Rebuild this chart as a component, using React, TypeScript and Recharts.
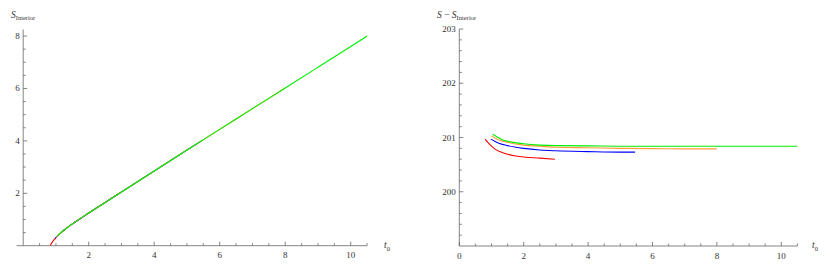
import React from "react";
import { LineChart, Line, XAxis, YAxis, ReferenceLine } from "recharts";

// left panel: S_Interior vs t0 (all four runs lie on the same curve)
const redT = [0.82, 0.86, 0.9, 1.0, 1.1, 1.25, 1.5, 1.75, 2.0, 2.5, 2.97];
const redInterior = [0, 0.08, 0.16, 0.31, 0.44, 0.6, 0.83, 1.04, 1.25, 1.65, 2.03];
const blueT = [0.98, 1.1, 1.25, 1.5, 1.75, 2.0, 2.5, 3.0, 3.5, 4.0, 4.5, 5.0, 5.46];
const blueInterior = [0.28, 0.44, 0.6, 0.83, 1.04, 1.25, 1.65, 2.05, 2.45, 2.85, 3.25, 3.65, 4.01];
const orangeT = [1.0, 1.1, 1.25, 1.5, 2.0, 2.5, 3.0, 3.5, 4.0, 5.0, 6.0, 7.0, 8.0];
const orangeInterior = [0.31, 0.44, 0.6, 0.83, 1.25, 1.65, 2.05, 2.45, 2.85, 3.65, 4.44, 5.23, 6.02];
const greenT = [1.04, 1.1, 1.25, 1.5, 2.0, 2.5, 3.0, 3.5, 4.0, 5.0, 6.0, 7.0, 8.0, 9.0, 10.0, 10.55];
const greenInterior = [0.36, 0.44, 0.6, 0.83, 1.25, 1.65, 2.05, 2.45, 2.85, 3.65, 4.44, 5.23, 6.02, 6.81, 7.6, 8.04];

// right panel: S - S_Interior vs t0
const redDiffT = [0.8, 0.9, 1.0, 1.1, 1.25, 1.5, 1.75, 2.0, 2.5, 2.97];
const redDiff = [200.97, 200.9, 200.84, 200.79, 200.74, 200.69, 200.66, 200.64, 200.62, 200.6];
const blueDiffT = [0.98, 1.1, 1.25, 1.5, 2.0, 2.5, 3.0, 4.0, 5.0, 5.46];
const blueDiff = [200.97, 200.93, 200.89, 200.85, 200.8, 200.77, 200.755, 200.74, 200.73, 200.73];
const orangeDiffT = [1.0, 1.1, 1.25, 1.5, 2.0, 2.5, 3.0, 4.0, 5.0, 6.0, 7.0, 8.0];
const orangeDiff = [201.03, 200.99, 200.95, 200.91, 200.86, 200.84, 200.82, 200.81, 200.8, 200.795, 200.79, 200.79];
const greenDiffT = [1.04, 1.15, 1.3, 1.5, 2.0, 2.5, 3.0, 4.0, 5.0, 6.0, 7.0, 8.0, 9.0, 10.0, 10.53];
const greenDiff = [201.06, 201.02, 200.97, 200.93, 200.885, 200.86, 200.85, 200.845, 200.84, 200.84, 200.84, 200.84, 200.84, 200.84, 200.84];

// ticks
const leftXTicks = [0.5, 1, 1.5, 2, 2.5, 3, 3.5, 4, 4.5, 5, 5.5, 6, 6.5, 7, 7.5, 8, 8.5, 9, 9.5, 10, 10.5];
const leftXLabels = [2, 4, 6, 8, 10];
const leftYTicks = [0.5, 1, 1.5, 2, 2.5, 3, 3.5, 4, 4.5, 5, 5.5, 6, 6.5, 7, 7.5, 8];
const leftYLabels = [2, 4, 6, 8];
const rightXTicks = [0, 0.5, 1, 1.5, 2, 2.5, 3, 3.5, 4, 4.5, 5, 5.5, 6, 6.5, 7, 7.5, 8, 8.5, 9, 9.5, 10, 10.5];
const rightXLabels = [0, 2, 4, 6, 8, 10];
const rightYTicks = [199.2, 199.4, 199.6, 199.8, 200, 200.2, 200.4, 200.6, 200.8, 201, 201.2, 201.4, 201.6, 201.8, 202, 202.2, 202.4, 202.6, 202.8, 203];
const rightYLabels = [200, 201, 202, 203];

const AXIS = "#666";
const TEXT = "#333";
const FONT = "'Liberation Serif', 'DejaVu Serif', serif";
const COLORS = { red: "#ff0000", blue: "#0000ff", orange: "#ff9a3c", green: "#00ee00" };

const zip = (xs: number[], ys: number[]) => xs.map((t, i) => ({ t, v: ys[i] }));

function XTick(props: any) {
  const { x, y, payload, labels } = props;
  const major = labels.includes(payload.value);
  return (
    <g>
      <line x1={x} x2={x} y1={y} y2={y - (major ? 4 : 2.5)} stroke={AXIS} strokeWidth={0.8} />
      {major && (
        <text x={x} y={y + 12.5} textAnchor="middle" fontSize={9} fontFamily={FONT} fill={TEXT}>
          {payload.value}
        </text>
      )}
    </g>
  );
}

function YTick(props: any) {
  const { x, y, payload, labels } = props;
  const major = labels.includes(payload.value);
  return (
    <g>
      <line x1={x} x2={x + (major ? 4 : 2.5)} y1={y} y2={y} stroke={AXIS} strokeWidth={0.8} />
      {major && (
        <text x={x - 3.5} y={y + 3} textAnchor="end" fontSize={9} fontFamily={FONT} fill={TEXT}>
          {payload.value}
        </text>
      )}
    </g>
  );
}

function AxisTitle({ left, children }: { left: number; children: React.ReactNode }) {
  return (
    <div style={{ position: "absolute", left, top: 10, fontFamily: FONT, fontSize: 9.5, color: TEXT, whiteSpace: "nowrap" }}>
      {children}
    </div>
  );
}

function T0({ left }: { left: number }) {
  return (
    <div style={{ position: "absolute", left, top: 240, fontFamily: FONT, fontSize: 9.5, color: TEXT }}>
      <i>t</i>
      <span style={{ fontSize: 6.5, position: "relative", top: 3 }}>0</span>
    </div>
  );
}

const Sub = ({ children }: { children: React.ReactNode }) => (
  <span style={{ fontSize: 6.5, position: "relative", top: 2 }}>{children}</span>
);

export default function App() {
  const lineProps = { type: "monotone" as const, dataKey: "v", dot: false, strokeWidth: 1.1, isAnimationActive: false };
  const axisProps = {
    type: "number" as const,
    allowDataOverflow: true,
    interval: 0 as const,
    tickSize: 0,
    tickMargin: 0,
    tickLine: false,
    axisLine: { stroke: AXIS, strokeWidth: 0.8 },
  };
  return (
    <div style={{ position: "absolute", left: 0, top: 0, width: 830, height: 272, background: "#fff" }}>
      <div style={{ position: "absolute", left: 0, top: 0 }}>
        <LineChart width={400} height={272} margin={{ top: 29.5, right: 32.9, bottom: 25.3, left: 22.2 }}>
          <XAxis
            {...axisProps}
            dataKey="t"
            domain={[0, 10.5]}
            ticks={leftXTicks}
            height={1}
            tick={(p: any) => <XTick {...p} labels={leftXLabels} />}
          />
          <YAxis
            {...axisProps}
            domain={[0, 8.25]}
            ticks={leftYTicks}
            width={1}
            tick={(p: any) => <YTick {...p} labels={leftYLabels} />}
          />
          <ReferenceLine
            segment={[{ x: -0.2, y: 0 }, { x: 0, y: 0 }]}
            ifOverflow="visible"
            stroke={AXIS}
            strokeWidth={0.8}
          />
          <Line {...lineProps} data={zip(redT, redInterior)} stroke={COLORS.red} />
          <Line {...lineProps} data={zip(blueT, blueInterior)} stroke={COLORS.blue} />
          <Line {...lineProps} data={zip(orangeT, orangeInterior)} stroke={COLORS.orange} />
          <Line {...lineProps} data={zip(greenT, greenInterior)} stroke={COLORS.green} />
        </LineChart>
      </div>
      <AxisTitle left={11}>
        <i>S</i>
        <Sub>Interior</Sub>
      </AxisTitle>
      <T0 left={384} />

      <div style={{ position: "absolute", left: 430, top: 0 }}>
        <LineChart width={400} height={272} margin={{ top: 29, right: 32.6, bottom: 25, left: 28.3 }}>
          <XAxis
            {...axisProps}
            dataKey="t"
            domain={[0, 10.5]}
            ticks={rightXTicks}
            height={1}
            tick={(p: any) => <XTick {...p} labels={rightXLabels} />}
          />
          <YAxis
            {...axisProps}
            domain={[199, 203]}
            ticks={rightYTicks}
            width={1}
            tick={(p: any) => <YTick {...p} labels={rightYLabels} />}
          />
          <Line {...lineProps} data={zip(redDiffT, redDiff)} stroke={COLORS.red} />
          <Line {...lineProps} data={zip(blueDiffT, blueDiff)} stroke={COLORS.blue} />
          <Line {...lineProps} data={zip(orangeDiffT, orangeDiff)} stroke={COLORS.orange} />
          <Line {...lineProps} data={zip(greenDiffT, greenDiff)} stroke={COLORS.green} />
        </LineChart>
      </div>
      <AxisTitle left={437}>
        <i>S</i> − <i>S</i>
        <Sub>Interior</Sub>
      </AxisTitle>
      <T0 left={812} />
    </div>
  );
}
